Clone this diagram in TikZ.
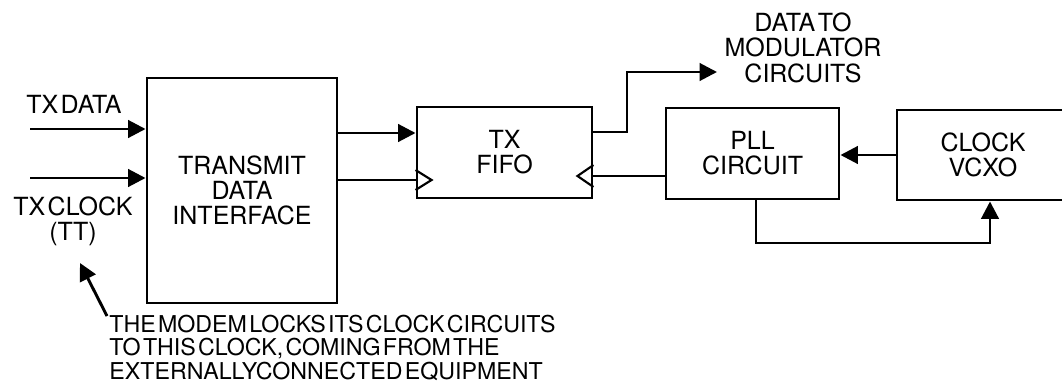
\documentclass[tikz,border=0pt]{standalone}
\usepackage{fontspec}
\setmainfont{TeX Gyre Heros}[WordSpace=0.35]
\usetikzlibrary{arrows.meta,calc}
\newcommand{\fbig}{\fontsize{18.75}{18.75}\selectfont}
\newcommand{\fnote}{\fontsize{17.4}{17.6}\selectfont}
\begin{document}
\begin{tikzpicture}[x=0.75pt,y=-0.75pt,
  line width=2.2pt,
  box/.style={draw, line width=2.2pt, align=center, inner sep=0pt, font=\fbig},
  arr/.style={-{Triangle[length=13pt,width=13pt]}},
  lbl/.style={font=\fbig, inner sep=0pt, align=center},
  clk/.style={line width=1.6pt, line join=miter}]
\useasboundingbox (0,0) rectangle (1062,385);

\node[box, minimum width=142.5pt, minimum height=168.75pt] (tdi) at (242,190.5) {TRANSMIT\\DATA\\INTERFACE};
\node[box, minimum width=131.25pt, minimum height=68.25pt] (fifo) at (504.5,152.5) {TX\\FIFO};
\node[box, minimum width=129.75pt, minimum height=68.25pt] (pll) at (752.5,153.5) {PLL\\CIRCUIT};
\node[box, minimum width=129pt, minimum height=67.5pt] (vcxo) at (983,155) {CLOCK\\VCXO};

\coordinate (txd) at (30,129);
\coordinate (txc) at (30,178);
\coordinate (ydata) at (0,133);
\coordinate (yclk) at (0,180);
\coordinate (yout) at (0,132);
\coordinate (bend) at (627,72);
\coordinate (dout) at (717,72);
\coordinate (yclk2) at (0,176);
\coordinate (yv) at (0,155);
\coordinate (fbx1) at (756,243);
\coordinate (fbx2) at (990,243);
\coordinate (notefrom) at (107,316);
\coordinate (noteto) at (80,263);

\draw[arr] (txd) -- (txd -| tdi.west);
\draw[arr] (txc) -- (txc -| tdi.west);
\draw[arr] (tdi.east |- ydata) -- (fifo.west |- ydata);
\draw (tdi.east |- yclk) -- (fifo.west |- yclk);
\draw[arr] (fifo.east |- yout) -- (bend |- yout) -- (bend) -- (dout);
\draw (pll.west |- yclk2) -- (fifo.east |- yclk2);
\draw[arr] (vcxo.west |- yv) -- (pll.east |- yv);
\draw[arr] (fbx1 |- pll.south) -- (fbx1) -- (fbx2) -- (fbx2 |- vcxo.south);
\draw[arr] (notefrom) -- (noteto);

\draw[clk] ($(fifo.west |- yclk)+(0,-10)$) -- ++(16,10) -- ++(-16,10);
\draw[clk] ($(fifo.east |- yclk2)+(0,-11)$) -- ++(-16,11) -- ++(16,11);

\node[lbl, anchor=base] (ltxd) at (74,113) {TX DATA};
\node[lbl, anchor=base] (ltxc) at (73,240) {TX CLOCK\\(TT)};
\node[lbl, anchor=base] (ldout) at (803,82) {DATA TO\\MODULATOR\\CIRCUITS};
\node[font=\fnote, align=left, anchor=base west, inner sep=0pt] (note) at (108,379)
  {THE MODEM LOCKS ITS CLOCK CIRCUITS\\TO THIS CLOCK, COMING FROM THE\\EXTERNALLYCONNECTED EQUIPMENT};
\end{tikzpicture}
\end{document}
